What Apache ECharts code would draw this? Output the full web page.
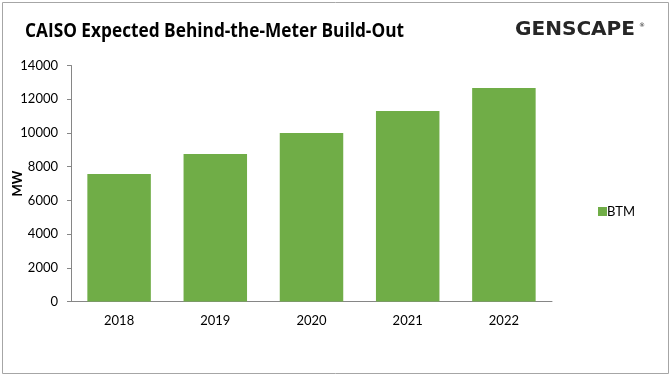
<!DOCTYPE html>
<html><head><meta charset="utf-8">
<script src="https://cdn.jsdelivr.net/npm/echarts@6/dist/echarts.min.js"></script>
<style>html,body{margin:0;padding:0;background:#fff}#c{width:672px;height:378px}</style>
</head><body><div id="c"></div>
<script>
const categories = ['2018','2019','2020','2021','2022'];
const btmValues = [7570, 8750, 10000, 11300, 12670];
const yTicks = [0, 2000, 4000, 6000, 8000, 10000, 12000, 14000];
const titleText = 'CAISO Expected Behind-the-Meter Build-Out';
const logoText = 'GENSCAPE';

function textWidth(txt, font) {
  const cv = document.createElement('canvas').getContext('2d');
  cv.font = font;
  return cv.measureText(txt).width;
}
const titleFont = 'bold 19px "Open Sans"';
const logoFont = 'bold 19px "DejaVu Sans"';
const titleScale = 379 / textWidth(titleText, titleFont);
const logoScale = 120 / textWidth(logoText, logoFont);

const chart = echarts.init(document.getElementById('c'), null, {renderer:'canvas'});
chart.setOption({
  animation: false,
  backgroundColor: '#fff',
  graphic: [{
    type: 'rect', shape: {x: 2.5, y: 2.5, width: 666, height: 371},
    style: {fill: 'none', stroke: '#a6a6a6', lineWidth: 1}, silent: true, z: -1
  }, {
    type: 'text', x: 25, y: 32, scaleX: titleScale,
    style: {text: titleText, fontFamily: 'Open Sans', fontWeight: 'bold', fontSize: 19, fill: '#000', verticalAlign: 'middle'}
  }, {
    type: 'text', x: 515, y: 30, scaleX: logoScale,
    style: {text: logoText, fontFamily: 'DejaVu Sans', fontWeight: 'bold', fontSize: 19, fill: '#262626', verticalAlign: 'middle'}
  }, {
    type: 'text', x: 639, y: 22,
    style: {text: '®', fontFamily: 'DejaVu Sans', fontSize: 6, fill: '#262626'}
  }],
  legend: {
    data: ['BTM'], orient: 'vertical', left: 593, top: 200,
    itemWidth: 9, itemHeight: 9, itemGap: 4, icon: 'rect',
    textStyle: {fontFamily: 'Lato', fontSize: 13, color: '#000', padding: [0,0,0,-5]}
  },
  grid: {left: 71, right: 120, top: 65.5, bottom: 76.5, containLabel: false, outerBoundsMode: 'none'},
  xAxis: {
    type: 'category', data: categories,
    axisLine: {lineStyle: {color: '#868686', width: 1}},
    axisTick: {show: false},
    axisLabel: {fontFamily: 'Lato', fontSize: 13, color: '#000', margin: 13}
  },
  yAxis: {
    type: 'value', min: yTicks[0], max: yTicks[yTicks.length-1], interval: 2000,
    name: 'MW', nameLocation: 'middle', nameGap: 47, nameRotate: 90, nameMoveOverlap: false,
    nameTextStyle: {fontFamily: 'Lato', fontWeight: 'bold', fontSize: 13, color: '#000'},
    axisLine: {show: true, lineStyle: {color: '#868686', width: 1}},
    axisTick: {show: true, length: 4, lineStyle: {color: '#868686'}},
    splitLine: {show: false},
    axisLabel: {fontFamily: 'Lato', fontSize: 13, color: '#000', margin: 13, formatter: v => String(v)}
  },
  series: [{
    name: 'BTM', type: 'bar', data: btmValues, barWidth: '66%',
    itemStyle: {color: '#70AD47'}
  }]
});
</script></body></html>
